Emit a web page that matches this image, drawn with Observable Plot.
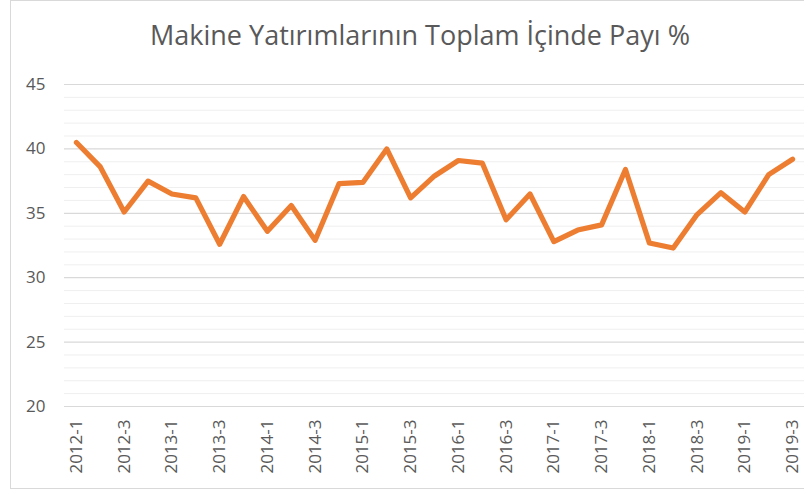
<!DOCTYPE html>
<html>
<head>
<meta charset="utf-8">
<script src="https://cdn.jsdelivr.net/npm/d3@7"></script>
<script src="https://cdn.jsdelivr.net/npm/@observablehq/plot@0.6"></script>
<style>
  html, body { margin: 0; padding: 0; background: #fff; }
  body { width: 804px; height: 493px; position: relative; overflow: hidden; font-family: "Open Sans", sans-serif; }
  #frame { position: absolute; left: 10px; top: 0px; width: 820px; height: 489px; border: 1px solid #d9d9d9; box-sizing: border-box; }
  #title { position: absolute; left: 0; top: 16px; width: 840px; text-align: center; font-size: 27px; color: #595959; font-weight: 400; white-space: nowrap; }
  #chart { position: absolute; left: 0; top: 60px; }
</style>
</head>
<body>
<div id="frame"></div>
<div id="title">Makine Yatırımlarının Toplam İçinde Payı %</div>
<div id="chart"></div>
<script>
const quarters = [
  "2012-1","2012-2","2012-3","2012-4",
  "2013-1","2013-2","2013-3","2013-4",
  "2014-1","2014-2","2014-3","2014-4",
  "2015-1","2015-2","2015-3","2015-4",
  "2016-1","2016-2","2016-3","2016-4",
  "2017-1","2017-2","2017-3","2017-4",
  "2018-1","2018-2","2018-3","2018-4",
  "2019-1","2019-2","2019-3"
];
const shares = [
  40.5, 38.6, 35.1, 37.5,
  36.5, 36.2, 32.6, 36.3,
  33.6, 35.6, 32.9, 37.3,
  37.4, 40.0, 36.2, 37.9,
  39.1, 38.9, 34.5, 36.5,
  32.8, 33.7, 34.1, 38.4,
  32.7, 32.3, 34.9, 36.6,
  35.1, 38.0, 39.2
];
const yTicks = [20, 25, 30, 35, 40, 45];
const yMinor = [21,22,23,24,26,27,28,29,31,32,33,34,36,37,38,39,41,42,43,44];
const xTickLabels = quarters.filter((d, i) => i % 2 === 0);

const data = quarters.map((q, i) => ({q, v: shares[i]}));

const chart = Plot.plot({
  width: 804,
  height: 433,
  marginLeft: 64,
  marginRight: 0,
  marginTop: 24,
  marginBottom: 87,
  style: {fontFamily: "Open Sans, sans-serif", background: "transparent", overflow: "visible"},
  x: {type: "point", domain: quarters, padding: 0.5, round: false, label: null},
  y: {domain: [20, 45], label: null},
  marks: [
    Plot.ruleY(yMinor, {stroke: "#efefef", strokeWidth: 1}),
    Plot.ruleY(yTicks, {stroke: "#d9d9d9", strokeWidth: 1.2}),
    Plot.axisY({ticks: yTicks, tickSize: 0, tickPadding: 19, fontSize: 17, color: "#595959", label: null}),
    Plot.axisX({ticks: xTickLabels, tickSize: 0, tickPadding: 13, tickRotate: -90, fontSize: 17, color: "#595959", label: null}),
    Plot.line(data, {x: "q", y: "v", stroke: "#ED7D31", strokeWidth: 5.2, strokeLinejoin: "round", strokeLinecap: "round"})
  ]
});
document.getElementById("chart").appendChild(chart);
</script>
</body>
</html>
